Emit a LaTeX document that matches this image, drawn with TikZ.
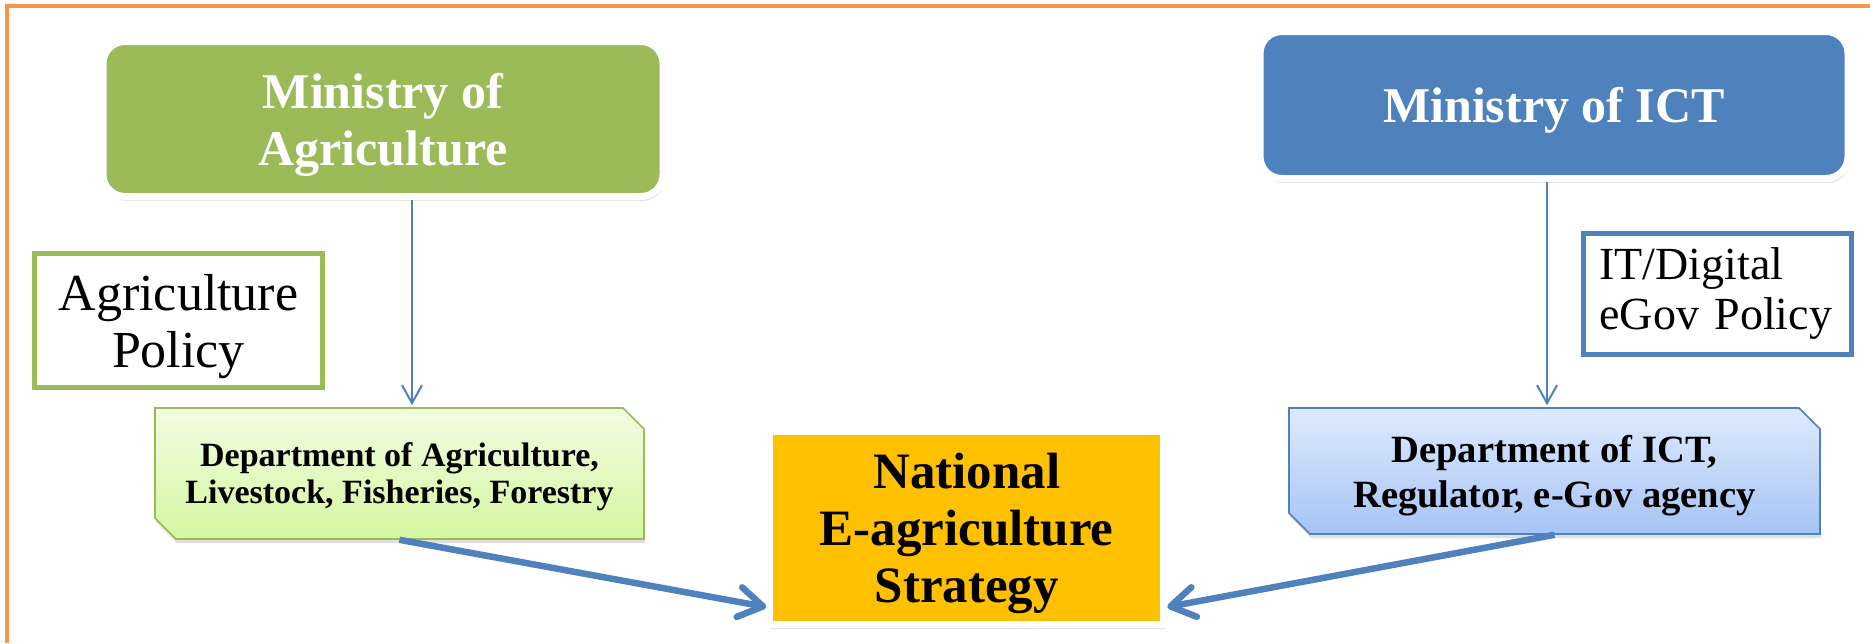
\documentclass[tikz,border=0pt]{standalone}
\usepackage{fontspec}
\setmainfont{Liberation Serif}
\usetikzlibrary{arrows.meta,shapes.misc,shadows}

\definecolor{agGreen}{HTML}{9BBB59}
\definecolor{ictBlue}{HTML}{4F81BD}
\definecolor{frameOrange}{HTML}{F79646}
\definecolor{stratGold}{HTML}{FFC000}
\definecolor{agLight}{HTML}{F1FCE3}
\definecolor{agMid}{HTML}{D5F7A0}
\definecolor{ictLight}{HTML}{DFEAFC}
\definecolor{ictMid}{HTML}{A6C4F5}

\tikzset{
	ministry/.style={rectangle, rounded corners=11pt, draw=white, line width=3.5pt, text=white, align=center,
		text depth=0pt, font=\fontsize{25}{28.5}\selectfont\bfseries,
		drop shadow={shadow xshift=0.8pt, shadow yshift=-2.2pt, opacity=0.22}},
	policy/.style={rectangle, fill=white, line width=2.5pt, font=\fontsize{26}{28.5}\selectfont},
	dept/.style={chamfered rectangle, chamfered rectangle corners={north east,south west},
		chamfered rectangle xsep=5.25pt, chamfered rectangle ysep=5.25pt, line width=0.8pt, align=center,
		text depth=0pt, drop shadow={shadow xshift=0.5pt, shadow yshift=-2pt, opacity=0.25}},
	strategy/.style={rectangle, fill=stratGold, draw=white, line width=3.5pt, align=center,
		text depth=0pt, font=\fontsize{25.5}{28.5}\selectfont\bfseries,
		drop shadow={shadow xshift=0.5pt, shadow yshift=-2pt, opacity=0.25}},
	thinarrow/.style={draw=ictBlue, line width=1pt, -{Straight Barb[length=9pt,width=10pt]}},
	bigarrow/.style={draw=ictBlue, line width=3.25pt, -{Straight Barb[length=12pt,width=15pt,round]}}
}

\begin{document}
\begin{tikzpicture}[x=0.5pt, y=-0.5pt]
	\useasboundingbox (0,0) rectangle (1870,643);
	\draw[frameOrange, line width=1.75pt] (1870,6) -- (7,6) -- (7,643);
	% ministries
	\node[ministry, fill=agGreen, minimum width=280pt, minimum height=77.5pt] (minAg) at (383,119) {Ministry of\\Agriculture};
	\node[ministry, fill=ictBlue, minimum width=294pt, minimum height=73.5pt] (minICT) at (1554,105) {Ministry of ICT};
	% policies
	\node[policy, draw=agGreen, minimum width=144pt, minimum height=67pt, align=center, text depth=0pt] (agPol) at (178.5,320.5) {Agriculture\\Policy};
	\node[policy, draw=ictBlue, text width=118pt, inner xsep=8pt, minimum height=60.5pt, align=left,
		font=\fontsize{23}{25}\selectfont] (ictPol) at (1717.5,294) {IT/Digital\\eGov~Policy};
	% departments
	\node[dept, top color=agLight, bottom color=agMid, draw=agGreen, minimum width=244.5pt, minimum height=65.5pt,
		font=\fontsize{17}{18.5}\selectfont\bfseries] (deptAg) at (399.5,473.5) {Department of Agriculture,\\Livestock, Fisheries, Forestry};
	\node[dept, top color=ictLight, bottom color=ictMid, draw=ictBlue, minimum width=265.5pt, minimum height=63pt,
		font=\fontsize{19.3}{22.5}\selectfont\bfseries] (deptICT) at (1554.5,471) {Department of ICT,\\Regulator, e-Gov agency};
	% strategy
	\node[strategy, minimum width=197pt, minimum height=96.5pt] (natStrat) at (966.75,528) {National\\E-agriculture\\Strategy};
	% arrows
	\draw[thinarrow] ([xshift=14.5pt]minAg.south) -- ([xshift=6.25pt,yshift=1pt]deptAg.north);
	\draw[thinarrow] ([xshift=-3.5pt]minICT.south) -- ([xshift=-3.75pt,yshift=1pt]deptICT.north);
	\draw[bigarrow] (deptAg.south) -- ([yshift=-39.5pt]natStrat.west);
	\draw[bigarrow] (deptICT.south) -- ([yshift=-39.5pt]natStrat.east);
\end{tikzpicture}
\end{document}
